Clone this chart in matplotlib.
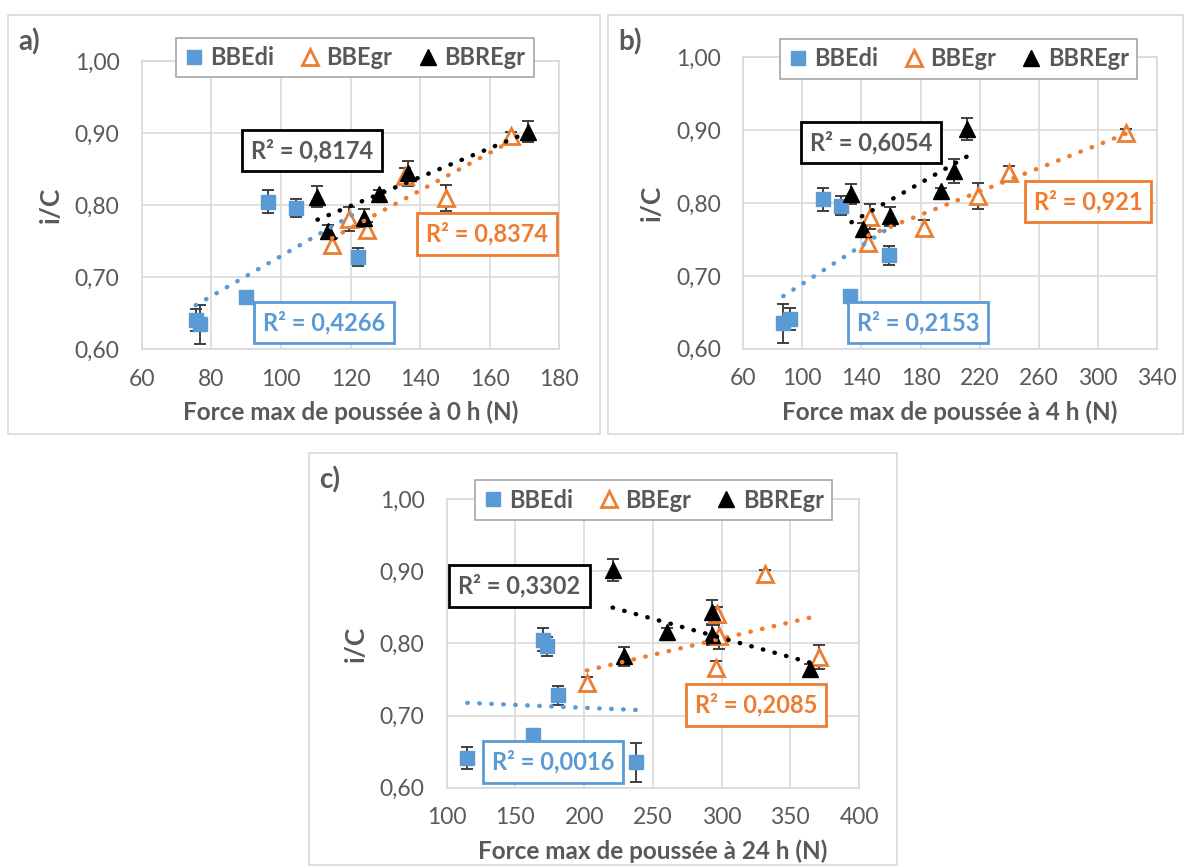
import numpy as np
import matplotlib.pyplot as plt
from matplotlib.patches import Rectangle
from matplotlib.lines import Line2D

plt.rcParams['font.family'] = ['Lato', 'DejaVu Sans']

W, H = 1184, 867
BLUE, ORANGE, BLACK = '#5B9BD5', '#ED7D31', '#000000'
GREY_TXT = '#595959'
GRID = '#D9D9D9'

series = ['BBEdi', 'BBEgr', 'BBREgr']

# i/C (same samples in the three panels)
ic_bbedi = [0.641, 0.635, 0.673, 0.805, 0.796, 0.728]
err_bbedi = [0.015, 0.027, 0.003, 0.016, 0.013, 0.013]
ic_bbegr = [0.745, 0.781, 0.766, 0.841, 0.810, 0.896]
err_bbegr = [0.009, 0.017, 0.010, 0.010, 0.018, 0.006]
ic_bbregr = [0.812, 0.764, 0.782, 0.816, 0.844, 0.902]
err_bbregr = [0.014, 0.008, 0.013, 0.005, 0.017, 0.015]

# force max de poussee (N) at 0 h, 4 h, 24 h
f0_bbedi = [75.5, 76.7, 89.9, 96.4, 104.2, 122.1]
f0_bbegr = [114.7, 119.6, 124.7, 135.7, 147.5, 166.1]
f0_bbregr = [110.5, 113.4, 123.9, 128.2, 136.4, 171.0]

f4_bbedi = [91.7, 87.2, 132.2, 114.2, 126.5, 158.7]
f4_bbegr = [144.7, 146.1, 182.0, 239.6, 218.7, 319.0]
f4_bbregr = [133.3, 141.1, 159.1, 193.5, 202.3, 211.3]

f24_bbedi = [115.0, 237.7, 163.0, 170.3, 172.7, 181.2]
f24_bbegr = [202.0, 371.0, 295.9, 296.4, 298.3, 331.5]
f24_bbregr = [293.4, 364.7, 229.2, 260.4, 292.7, 220.7]

# R² labels (BBEdi, BBEgr, BBREgr)
r2_0 = ['0,4266', '0,8374', '0,8174']
r2_4 = ['0,2153', '0,921', '0,6054']
r2_24 = ['0,0016', '0,2085', '0,3302']

y_ticks = [0.60, 0.70, 0.80, 0.90, 1.00]


def px(x0, y0, x1, y1):
    # pixel box -> figure fraction [left, bottom, width, height]
    return [x0 / W, 1 - y1 / H, (x1 - x0) / W, (y1 - y0) / H]


def panel(fig, rect, frame, letter, xs, xticks, xlabel, r2, r2_pos, leg_pos):
    fx0, fy0, fx1, fy1 = frame
    fig.patches.append(Rectangle((fx0 / W, 1 - fy1 / H), (fx1 - fx0) / W, (fy1 - fy0) / H,
                                 transform=fig.transFigure, fill=False,
                                 edgecolor=GRID, lw=1.2, zorder=0))
    fig.text((fx0 + 10) / W, 1 - (fy0 + 27) / H, letter, fontsize=20, fontweight='bold',
             color=GREY_TXT, ha='left', va='center')

    ax = fig.add_axes(px(*rect))
    ys = [ic_bbedi, ic_bbegr, ic_bbregr]
    errs = [err_bbedi, err_bbegr, err_bbregr]
    colors = [BLUE, ORANGE, BLACK]
    styles = [dict(marker='s', ms=10.5, mfc=BLUE, mec=BLUE),
              dict(marker='^', ms=11, mfc='white', mec=ORANGE, mew=2),
              dict(marker='^', ms=11, mfc=BLACK, mec=BLACK)]
    for x, y, e, c, st in zip(xs, ys, errs, colors, styles):
        ax.errorbar(x, y, yerr=e, fmt='none', ecolor='#404040', elinewidth=1.4,
                    capsize=4.5, capthick=1.4, zorder=3)
        ax.plot(x, y, ls='none', zorder=4, **st)
        k, b = np.polyfit(x, y, 1)
        xl = np.array([min(x), max(x)])
        ax.plot(xl, k * xl + b, color=c, ls=(0, (0.1, 2.6)), lw=3.2,
                dash_capstyle='round', zorder=5)

    ax.set_xlim(xticks[0], xticks[-1])
    ax.set_ylim(0.60, 1.00)
    ax.set_xticks(xticks)
    ax.set_yticks(y_ticks)
    ax.set_yticklabels([f'{v:.2f}'.replace('.', ',') for v in y_ticks])
    ax.tick_params(length=0, labelsize=16.5, labelcolor=GREY_TXT)
    ax.tick_params(axis='x', pad=14)
    ax.tick_params(axis='y', pad=16)
    ax.grid(True, color=GRID, lw=1.2)
    ax.set_axisbelow(True)
    for s in ax.spines.values():
        s.set_color(GRID)
        s.set_linewidth(1.2)

    ax.set_xlabel(xlabel, fontsize=17.5, fontweight='bold', color=GREY_TXT, labelpad=8)
    fig.text((rect[0] - 91) / W, 1 - 0.5 * (rect[1] + rect[3]) / H, 'i/C',
             rotation=90, fontsize=19, fontweight='bold', color=GREY_TXT,
             ha='center', va='center')

    # R² boxes
    txt_cols = [BLUE, ORANGE, GREY_TXT]
    for lab, (cx, cy), tc, ec in zip(r2, r2_pos, txt_cols, colors):
        fig.text(cx / W, 1 - cy / H, f'R² = {lab}', fontsize=17, fontweight='bold',
                 color=tc, ha='center', va='center', zorder=10,
                 bbox=dict(boxstyle='square,pad=0.38', fc='white', ec=ec, lw=2))

    handles = [Line2D([], [], ls='none', marker='s', ms=10, mfc=BLUE, mec=BLUE),
               Line2D([], [], ls='none', marker='^', ms=11, mfc='white', mec=ORANGE, mew=2),
               Line2D([], [], ls='none', marker='^', ms=11, mfc=BLACK, mec=BLACK)]
    leg = fig.legend(handles, series, loc='center',
                     bbox_to_anchor=(leg_pos[0] / W, 1 - leg_pos[1] / H),
                     ncol=3, frameon=True, fancybox=False, framealpha=1,
                     edgecolor='#A6A6A6', handlelength=0.8, handletextpad=0.3,
                     columnspacing=1.1, borderpad=0.35,
                     prop=dict(size=17, weight='bold'))
    leg.get_frame().set_linewidth(1.2)
    for t in leg.get_texts():
        t.set_color(GREY_TXT)
    return ax


fig = plt.figure(figsize=(W / 100, H / 100), dpi=100)

panel(fig, (141.7, 61, 559.3, 349.3), (8, 15, 600, 434), 'a)',
      [f0_bbedi, f0_bbegr, f0_bbregr], [60, 80, 100, 120, 140, 160, 180],
      'Force max de poussée à 0 h (N)', r2_0,
      [(323.7, 322.3), (487, 234), (311.7, 150.5)], (355, 57.5))

panel(fig, (743, 57.3, 1157.3, 348.7), (608, 15, 1183, 434), 'b)',
      [f4_bbedi, f4_bbegr, f4_bbregr], [60, 100, 140, 180, 220, 260, 300, 340],
      'Force max de poussée à 4 h (N)', r2_4,
      [(918, 322.7), (1088, 201.7), (871, 142.7)], (958.5, 59))

panel(fig, (446.7, 499.3, 859, 787.7), (309, 453, 897, 865), 'c)',
      [f24_bbedi, f24_bbegr, f24_bbregr], [100, 150, 200, 250, 300, 350, 400],
      'Force max de poussée à 24 h (N)', r2_24,
      [(552.7, 762), (756, 705), (519.5, 586)], (653.5, 500))

fig.savefig('out.png', dpi=100, facecolor='white')
